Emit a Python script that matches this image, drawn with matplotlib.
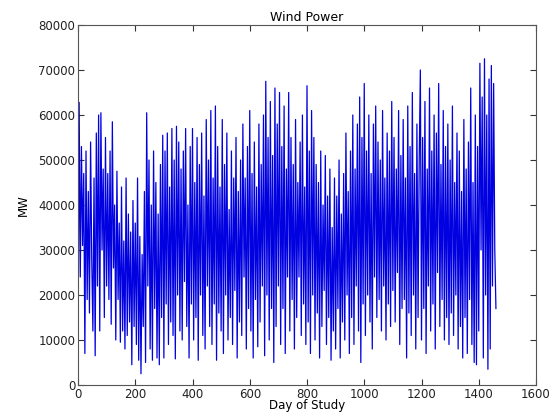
import numpy as np
import matplotlib
matplotlib.use('Agg')
import matplotlib.pyplot as plt

# daily wind power, every 4th day
step_days = 4
mw = [
    3500, 62800, 24000, 53000, 31000, 47000, 7000, 52000, 19000, 43000, 16000, 54000, 28000, 12000, 46000, 6500, 56000, 22000, 60000, 12000, 60500, 30000, 48000, 15000, 55000,
    22000, 47000, 19000, 52000, 13500, 58500, 26000, 40000, 10000, 47500, 19000, 36000, 9500, 44000, 12000, 32000, 8000, 46000, 11000, 38000, 14000, 34000, 4500, 41000, 13000,
    36000, 9000, 46000, 5500, 33000, 2500, 29000, 13000, 43000, 5000, 60500, 22000, 50000, 8000, 40000, 5500, 52000, 17000, 45000, 6000, 38000, 4500, 49000, 15000, 55500,
    6000, 52000, 18000, 56000, 9000, 44000, 14000, 57000, 11000, 50000, 5800, 57500, 20000, 54000, 12000, 48000, 10000, 52000, 23000, 57000, 13000, 40000, 6000, 53000, 18000,
    57000, 10000, 45000, 15000, 55000, 5500, 49000, 20000, 56000, 11000, 42000, 8000, 59000, 22000, 50000, 13000, 61000, 9000, 46000, 18000, 62000, 5500, 53000, 16000, 44000,
    12000, 59000, 7000, 49000, 20000, 56000, 10000, 39000, 15000, 52000, 9000, 46000, 21000, 55000, 6000, 43000, 14000, 50000, 11000, 58000, 24000, 46000, 8000, 53000, 17000,
    61000, 12000, 47000, 6000, 54000, 19000, 44000, 8500, 58000, 14000, 49000, 22000, 60000, 6500, 67500, 20000, 55000, 10000, 63000, 17000, 51000, 5000, 66000, 13000, 58000,
    22000, 65000, 9000, 53000, 17000, 62000, 7000, 48000, 24000, 65000, 12000, 55000, 19000, 49000, 8000, 59000, 15000, 45000, 24000, 54000, 11000, 60000, 18000, 44000, 9000,
    66500, 14000, 52000, 7000, 61000, 20000, 55000, 10000, 49000, 16000, 45000, 6000, 52000, 13000, 40000, 21000, 51000, 9000, 42000, 15000, 48000, 5500, 35000, 12000, 46000,
    8000, 42000, 17000, 50000, 6000, 38000, 14000, 47000, 10000, 56000, 20000, 43000, 7000, 52000, 15000, 60000, 9000, 48000, 22000, 58000, 12000, 64000, 5000, 55000, 18000,
    67000, 11000, 52000, 20000, 60000, 14000, 47000, 8000, 58000, 24000, 62000, 15000, 54000, 19000, 50000, 12000, 61000, 22000, 46000, 10000, 56000, 18000, 52000, 13000, 63000,
    21000, 55000, 14000, 48000, 25000, 61000, 9000, 51000, 17000, 59000, 19000, 46000, 6000, 62000, 16000, 53000, 11000, 65000, 20000, 47000, 8000, 58000, 15000, 50000, 70000,
    10000, 55000, 17000, 63000, 7000, 48000, 22000, 66000, 12000, 52000, 18000, 60000, 8000, 56000, 25000, 67000, 13000, 49000, 19000, 61000, 10000, 53000, 15000, 58000, 9000,
    50000, 16000, 62000, 11000, 45000, 20000, 56000, 8000, 52000, 13000, 43000, 6000, 59000, 15000, 48000, 7000, 54000, 19000, 66000, 9000, 45000, 5000, 60000, 4500, 53000,
    12000, 71500, 30000, 64000, 6000, 72500, 20000, 60000, 3500, 68000, 8000, 71000, 22000, 67000, 30000, 17000,
]
days = np.arange(len(mw)) * step_days

fig = plt.figure(figsize=(5.52, 4.13), dpi=100)
ax = fig.add_axes([78/552, 1 - 385/413, (536 - 78)/552, 360/413])

ax.plot(days, mw, color='#0000e0', linewidth=0.9)

ax.set_xlim(0, 1600)
ax.set_ylim(0, 80000)
ax.set_xticks(range(0, 1601, 200))
ax.set_yticks(range(0, 80001, 10000))
ax.tick_params(direction='in', top=True, right=True, labelsize=8.5, length=4,
               colors='#333333', labelcolor='#222222', pad=2)
for s in ax.spines.values():
    s.set_color('#555555')

ax.set_title('Wind Power', fontsize=9, pad=3)
ax.set_xlabel('Day of Study', fontsize=8.5, labelpad=-1)
ax.set_ylabel('MW', fontsize=8.5, labelpad=6)

fig.savefig('out.png', dpi=100)
